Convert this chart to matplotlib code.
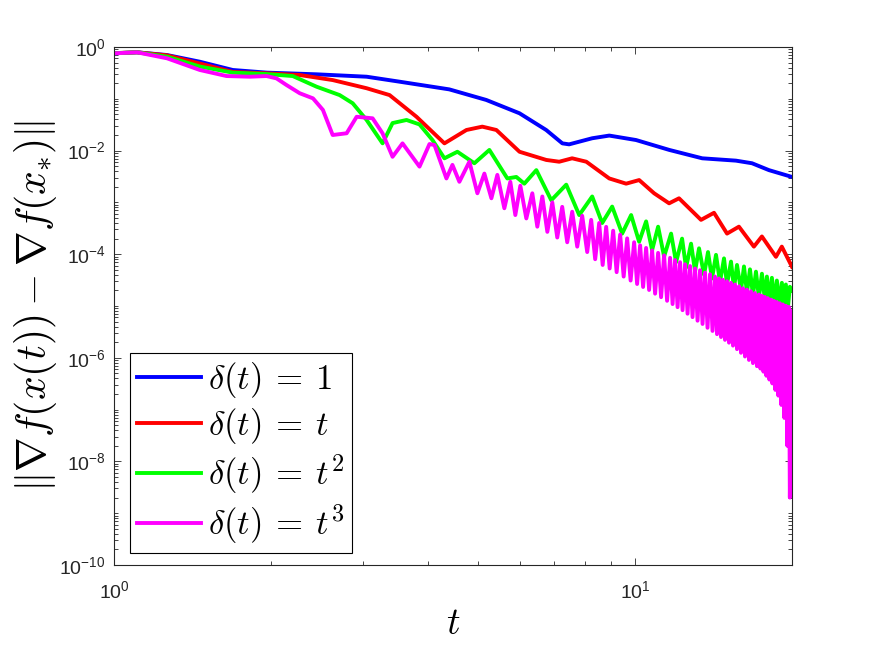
import numpy as np
import matplotlib.pyplot as plt
from matplotlib.ticker import FixedLocator, FuncFormatter, NullFormatter

# ---- data (t, gradient-norm) ----
t_d1 = [1.0, 1.107, 1.264, 1.461, 1.69, 1.964, 2.448, 3.053, 3.531, 4.40, 5.18, 6.0,
        6.75, 7.25, 7.47, 8.27, 8.92, 10.04, 11.63, 13.45, 15.61, 16.76, 18.06, 20.0]
g_d1 = [0.755, 0.79, 0.70, 0.52, 0.36, 0.32, 0.297, 0.267, 0.214, 0.152, 0.095, 0.0525,
        0.025, 0.0138, 0.0132, 0.0173, 0.0195, 0.016, 0.0103, 0.0071, 0.0064, 0.0057,
        0.0042, 0.0031]

t_dt = [1.0, 1.107, 1.264, 1.461, 1.69, 1.964, 2.272, 2.628, 3.053, 3.379, 3.806, 4.306,
        4.746, 5.09, 5.417, 6.0, 6.753, 7.15, 7.57, 8.06, 8.92, 9.61, 10.18, 10.875,
        11.62, 12.14, 13.38, 14.17, 15.01, 15.82, 16.90, 17.51, 18.63, 19.12, 20.0]
g_dt = [0.76, 0.79, 0.69, 0.48, 0.33, 0.31, 0.288, 0.23, 0.16, 0.118, 0.045, 0.0138,
        0.025, 0.029, 0.025, 0.0095, 0.0066, 0.0061, 0.0071, 0.0061, 0.0029, 0.0023,
        0.0027, 0.0015, 0.00096, 0.0012, 0.00046, 0.00063, 0.00025, 0.00034, 0.00014,
        0.00022, 8.9e-5, 0.00014, 5.7e-5]

t_dt2 = [1.0, 1.107, 1.264, 1.461, 1.69, 1.964, 2.203, 2.448, 2.71, 2.871, 3.053, 3.276,
         3.424, 3.642, 3.857, 4.084, 4.306, 4.56, 4.915, 5.252, 5.686, 5.916, 6.129,
         6.463, 6.904, 7.376, 7.811, 8.272, 8.645, 9.035, 9.443, 9.825, 10.178, 10.497,
         10.779, 11.069, 11.366, 11.722, 11.983, 12.305, 12.524, 12.803, 13.031, 13.263,
         13.559, 13.80, 14.046, 14.296, 14.551, 14.81, 15.008, 15.275, 15.478, 15.685,
         15.964, 16.177, 16.392, 16.611, 16.831, 17.055, 17.28, 17.511, 17.743, 17.90,
         18.139, 18.299, 18.543, 18.707, 18.956, 19.125, 19.294, 19.465, 19.638, 19.811,
         20.0]
g_dt2 = [0.76, 0.79, 0.65, 0.42, 0.32, 0.30, 0.275, 0.171, 0.118, 0.082, 0.039, 0.0138,
         0.034, 0.039, 0.032, 0.016, 0.0071, 0.0095, 0.0057, 0.0103, 0.0029, 0.0031,
         0.0023, 0.0042, 0.0011, 0.0022, 0.00057, 0.0013, 0.0004, 0.00083, 0.00025,
         0.00057, 0.000174, 0.00043, 0.00012, 0.00034, 9e-5, 0.00025, 7e-5, 0.0002,
         5.5e-5, 0.00016, 4.7e-5, 0.00013, 4e-5, 0.00011, 3.4e-5, 9.7e-5, 2.9e-5, 8.3e-5,
         2.6e-5, 7.2e-5, 2.2e-5, 6.2e-5, 2.0e-5, 5.8e-5, 1.8e-5, 5.1e-5, 1.6e-5, 4.6e-5,
         1.45e-5, 4.2e-5, 1.3e-5, 3.7e-5, 1.2e-5, 3.5e-5, 1.1e-5, 3.1e-5, 1.0e-5, 2.8e-5,
         9.5e-6, 2.6e-5, 9e-6, 2.35e-5, 2.0e-5]

t_dt3 = [1.0, 1.107, 1.264, 1.461, 1.644, 1.822, 1.962, 2.05, 2.142, 2.272, 2.409, 2.517,
         2.628, 2.795, 2.922, 3.135, 3.276, 3.424, 3.578, 3.857, 4.031, 4.121, 4.344,
         4.461, 4.60, 4.808, 4.981, 5.137, 5.299, 5.44, 5.611, 5.761, 5.89, 6.022, 6.183,
         6.349, 6.491, 6.636, 6.785, 6.935, 7.089, 7.246, 7.408, 7.573, 7.743, 7.915,
         8.092, 8.235, 8.382,
         8.531, 8.664, 8.799, 8.936, 9.075, 9.216, 9.36, 9.506, 9.654, 9.803, 9.956,
         10.088, 10.223, 10.359, 10.497, 10.637, 10.779, 10.923, 11.069, 11.216, 11.366,
         11.517, 11.671, 11.80, 11.93, 12.063, 12.196, 12.332, 12.469, 12.607, 12.747,
         12.888, 13.031, 13.176, 13.322, 13.47, 13.619, 13.77, 13.924, 14.077, 14.234,
         14.359, 14.487, 14.615, 14.744, 14.875, 15.008, 15.14, 15.275, 15.41, 15.547,
         15.685, 15.824, 15.964, 16.106, 16.248, 16.392, 16.537, 16.683, 16.831, 16.98,
         17.131, 17.28, 17.398, 17.511, 17.63, 17.743, 17.861, 17.98, 18.10, 18.219,
         18.339, 18.461, 18.583, 18.707, 18.831, 18.956, 19.082, 19.209, 19.337, 19.465,
         19.594, 19.724, 19.811, 20.0]
g_dt3 = [0.755, 0.79, 0.605, 0.36, 0.275, 0.267, 0.275, 0.248, 0.185, 0.128, 0.102, 0.061,
         0.020, 0.0216, 0.045, 0.042, 0.0216, 0.0076, 0.0138, 0.0049, 0.0134, 0.0128,
         0.0029, 0.0053, 0.0025, 0.0061, 0.0015, 0.0036, 0.0012, 0.0034, 0.00077, 0.0025,
         0.00057, 0.0021, 0.00049, 0.0015, 0.00034, 0.0013, 0.00027, 0.001, 0.00021,
         0.00082, 0.00017, 0.00066, 0.00014, 0.00055, 0.00011, 0.00046, 8.0e-5,
         4.0e-4, 6.2e-5, 3.37e-4, 5.3e-5, 2.84e-4, 4.5e-5, 2.39e-4, 3.7e-5, 2.02e-4,
         3.1e-5, 1.70e-4, 2.66e-5, 1.48e-4, 2.33e-5, 1.32e-4, 2.04e-5, 1.18e-4, 1.73e-5,
         1.06e-4, 1.48e-5, 9.5e-5, 1.26e-5, 8.5e-5, 1.09e-5, 7.7e-5, 9.5e-6, 7.0e-5,
         8.3e-6, 6.4e-5, 7.1e-6, 5.9e-5, 6.1e-6, 5.3e-5, 5.2e-6, 4.9e-5, 4.5e-6, 4.4e-5,
         3.8e-6, 4.1e-5, 3.3e-6, 3.7e-5, 2.86e-6, 3.4e-5, 2.52e-6, 3.2e-5, 2.22e-6,
         3.0e-5, 1.96e-6, 2.8e-5, 1.72e-6, 2.6e-5, 1.47e-6, 2.4e-5, 1.25e-6, 2.2e-5,
         1.06e-6, 2.07e-5, 9.1e-7, 1.92e-5, 7.9e-7, 1.78e-5, 6.9e-7, 1.66e-5, 6.2e-7,
         1.57e-5, 5.4e-7, 1.49e-5, 4.5e-7, 1.41e-5, 3.8e-7, 1.33e-5, 3.2e-7, 1.26e-5,
         2.4e-7, 1.19e-5, 1.86e-7, 1.13e-5, 1.23e-7, 1.07e-5, 6.9e-8, 1.01e-5, 2.0e-8,
         9.6e-6, 2.0e-9, 8.0e-6]

series = [
    (t_d1, g_d1, (0, 0, 1), r'$\delta(t)\:=\:1$'),
    (t_dt, g_dt, (1, 0, 0), r'$\delta(t)\:=\:t$'),
    (t_dt2, g_dt2, (0, 1, 0), r'$\delta(t)\:=\:t^{2}$'),
    (t_dt3, g_dt3, (1, 0, 1), r'$\delta(t)\:=\:t^{3}$'),
]

plt.rcParams['font.family'] = ['Liberation Sans', 'DejaVu Sans']
plt.rcParams['mathtext.fontset'] = 'cm'

fig = plt.figure(figsize=(8.75, 6.56), dpi=100)
ax = fig.add_axes([114 / 875, 91 / 656, 678 / 875, 518 / 656])

for t, g, c, lab in series:
    ax.plot(t, g, color=c, lw=2.8, label=lab, solid_joinstyle='round')

ax.set_xscale('log')
ax.set_yscale('log')
ax.set_xlim(1, 20)
ax.set_ylim(1e-10, 1)

ax.xaxis.set_major_locator(FixedLocator([1, 10]))
ax.xaxis.set_minor_locator(FixedLocator([2, 3, 4, 5, 6, 7, 8, 9, 20]))
ax.yaxis.set_major_locator(FixedLocator([10.0 ** k for k in range(-10, 1, 2)]))
ax.yaxis.set_minor_locator(FixedLocator(
    [m * 10.0 ** k for k in range(-10, 0) for m in range(1, 10) if not (m == 1 and k % 2 == 0)]))

fmt = FuncFormatter(lambda v, pos: r'$\mathregular{10^{%d}}$' % round(np.log10(v)))
ax.xaxis.set_major_formatter(fmt)
ax.yaxis.set_major_formatter(fmt)
ax.xaxis.set_minor_formatter(NullFormatter())
ax.yaxis.set_minor_formatter(NullFormatter())

edge = (0.15, 0.15, 0.15)
for s in ax.spines.values():
    s.set_color(edge)
    s.set_linewidth(0.8)
ax.tick_params(which='both', direction='in', top=True, right=True, colors=edge,
               labelsize=14, width=0.6)
ax.tick_params(which='major', length=5)
ax.tick_params(which='minor', length=2.8)
ax.tick_params(axis='x', which='major', pad=11)
ax.tick_params(axis='y', which='major', pad=6)

ax.set_xlabel(r'$t$', fontsize=27, labelpad=3)
ax.set_ylabel(r'$\|\nabla f(x(t))-\nabla f(x_{*})\|$', fontsize=30, labelpad=0)

leg = ax.legend(loc='lower left', bbox_to_anchor=(0.0236, 0.023), borderaxespad=0,
                fontsize=25, fancybox=False, framealpha=1, edgecolor='k',
                handlelength=1.85, handletextpad=0.2, labelspacing=0.18, borderpad=0.2)
leg.get_frame().set_linewidth(0.8)

fig.savefig('out.png', dpi=100)
